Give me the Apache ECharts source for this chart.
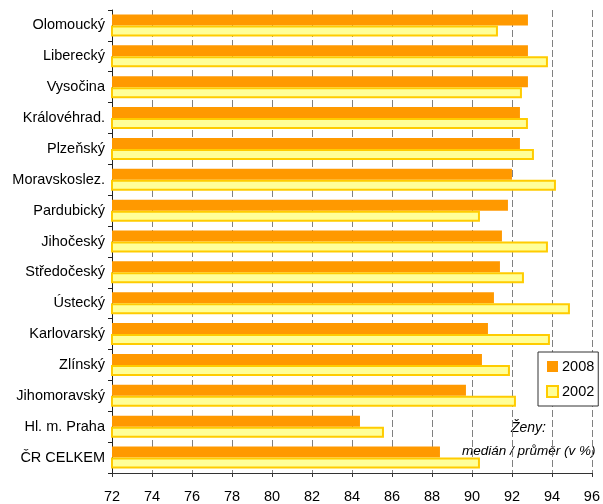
<!DOCTYPE html>
<html>
<head>
<meta charset="utf-8">
<script src="https://cdn.jsdelivr.net/npm/echarts@6/dist/echarts.min.js"></script>
<style>
html,body{margin:0;padding:0;background:#fff;}
#chart{width:603px;height:504px;}
</style>
</head>
<body>
<div id="chart"></div>
<script>
var categories = ['Olomoucký','Liberecký','Vysočina','Královéhrad.','Plzeňský','Moravskoslez.','Pardubický','Jihočeský','Středočeský','Ústecký','Karlovarský','Zlínský','Jihomoravský','Hl. m. Praha','ČR CELKEM'];
var values2008 = [92.8, 92.8, 92.8, 92.4, 92.4, 92.0, 91.8, 91.5, 91.4, 91.1, 90.8, 90.5, 89.7, 84.4, 88.4];
var values2002 = [91.3, 93.8, 92.5, 92.8, 93.1, 94.2, 90.4, 93.8, 92.6, 94.9, 93.9, 91.9, 92.2, 85.6, 90.4];
var seriesNames = ['2008', '2002'];
var noteLines = ['Ženy:', 'medián / průměr (v %)'];

var font = '"Liberation Sans", Arial, sans-serif';
var chart = echarts.init(document.getElementById('chart'), null, {renderer: 'canvas'});
chart.setOption({
  animation: false,
  backgroundColor: '#fff',
  grid: {left: 112, right: 11, top: 10, bottom: 30, containLabel: false},
  legend: {
    orient: 'vertical',
    left: 538, top: 352,
    padding: [7, 4, 7, 8],
    itemGap: 10,
    itemWidth: 11, itemHeight: 11,
    borderColor: '#333', borderWidth: 1,
    backgroundColor: '#fff',
    textStyle: {fontFamily: font, fontSize: 14.5, color: '#000', padding: [0, 0, 0, -1]},
    data: [{name: seriesNames[0], icon: 'rect'}, {name: seriesNames[1], icon: 'rect'}]
  },
  xAxis: {
    type: 'value', min: 72, max: 96, interval: 2,
    axisLine: {show: true, lineStyle: {color: '#333'}},
    axisTick: {show: true, length: 4, lineStyle: {color: '#333'}},
    axisLabel: {margin: 16, fontFamily: font, fontSize: 14.5, color: '#000'},
    splitLine: {show: true, lineStyle: {color: '#808080', type: [7, 3], width: 1}}
  },
  yAxis: {
    type: 'category', inverse: true, data: categories,
    axisLine: {show: true, lineStyle: {color: '#222'}},
    axisTick: {show: true, length: 4, lineStyle: {color: '#222'}},
    axisLabel: {margin: 7, fontFamily: font, fontSize: 14.5, color: '#000'},
    splitLine: {show: false}
  },
  series: [
    {name: seriesNames[0], type: 'bar', data: values2008, barWidth: 11, barGap: '0%',
     itemStyle: {color: '#FF9900'}},
    {name: seriesNames[1], type: 'bar', data: values2002, barWidth: 11, barGap: '0%',
     itemStyle: {color: '#FFFF99', borderColor: '#FFCC00', borderWidth: 2}}
  ],
  graphic: [
    {type: 'text', left: 511, top: 421, style: {text: noteLines[0], fontFamily: font, fontSize: 14, fontStyle: 'italic', fill: '#000'}},
    {type: 'text', left: 462, top: 444, style: {text: noteLines[1], fontFamily: font, fontSize: 13.5, fontStyle: 'italic', fill: '#000'}}
  ]
});
</script>
</body>
</html>
